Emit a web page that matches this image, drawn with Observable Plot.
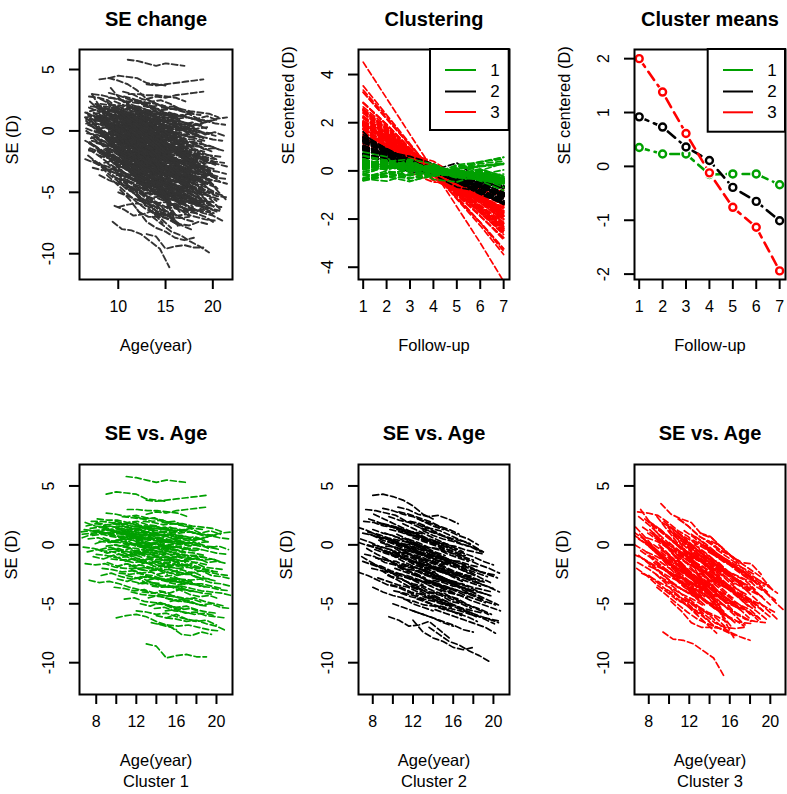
<!DOCTYPE html>
<html><head><meta charset="utf-8">
<script src="https://cdn.jsdelivr.net/npm/d3@7"></script>
<script src="https://cdn.jsdelivr.net/npm/@observablehq/plot@0.6"></script>
<style>
body{margin:0;background:#fff}
#wrap{position:relative;width:787px;height:794px;overflow:hidden;font-family:"Liberation Sans",Arial,sans-serif}
</style>
</head><body><div id="wrap"></div>
<script>
// Each trajectory: start age, then SE (D) at 7 yearly follow-up visits
const cluster1Trajectories = [
"6.5 1.1 1.2 1.0 1.0 0.9 0.8 0.6","6.6 0.9 1.0 1.1 0.8 0.7 0.7 0.4","6.8 1.3 1.2 1.3 1.1 1.0 0.9 0.8",
"6.7 -0.2 -0.3 -0.5 -0.6 -0.9 -0.8 -1.1","6.9 -1.6 -1.7 -1.6 -1.9 -2.0 -2.0 -2.2","7.0 1.6 1.8 1.6 1.5 1.3 1.4 1.1",
"7.2 0.5 0.6 0.3 0.2 0.1 0.0 -0.3","7.3 -3.0 -3.2 -3.1 -3.3 -3.6 -3.8 -4.0","7.5 2.0 2.0 1.9 1.8 1.6 1.5 1.3",
"7.6 0.8 0.9 0.7 0.6 0.4 0.4 0.1","7.8 1.2 1.0 1.1 0.9 0.8 0.6 0.5","8.0 -0.8 -0.9 -1.1 -1.0 -1.3 -1.4 -1.6",
"8.1 2.2 2.1 2.1 1.9 2.0 1.7 1.6","8.3 0.3 0.2 0.4 0.1 0.0 -0.2 -0.3","8.4 1.5 1.6 1.4 1.3 1.3 1.0 0.9",
"8.6 -2.0 -2.1 -2.3 -2.2 -2.5 -2.6 -2.9","8.8 1.0 1.1 0.9 0.7 0.8 0.5 0.3","9.0 4.3 4.5 4.4 4.3 3.9 3.8 3.7",
"9.0 2.7 2.6 2.4 2.5 2.3 2.2 2.0","9.2 -0.4 -0.3 -0.6 -0.7 -0.8 -1.0 -1.1","9.3 0.9 0.7 0.8 0.6 0.4 0.3 0.2",
"9.5 -1.2 -1.3 -1.2 -1.5 -1.6 -1.8 -1.9","9.6 1.8 1.7 1.8 1.5 1.4 1.4 1.2","9.8 -3.6 -3.7 -3.9 -3.8 -4.1 -4.3 -4.4",
"10.0 -6.2 -6.0 -5.9 -6.1 -6.5 -6.8 -7.2","10.0 0.4 0.5 0.3 0.1 0.2 -0.1 -0.2","10.2 1.3 1.2 1.0 1.1 0.8 0.8 0.6",
"10.3 -2.4 -2.5 -2.4 -2.7 -2.9 -3.0 -3.2","10.5 -0.9 -1.0 -0.8 -1.2 -1.3 -1.3 -1.6","10.6 2.4 2.3 2.2 2.0 2.1 1.8 1.7",
"10.8 -4.6 -4.5 -4.8 -4.9 -5.0 -5.3 -5.4","11.0 5.8 5.7 5.5 5.3 5.5 5.4 5.3","11.0 0.0 0.1 -0.1 -0.3 -0.3 -0.5 -0.7",
"11.1 3.0 3.0 2.9 2.9 2.8 2.7 2.4","11.3 -1.8 -1.7 -1.9 -2.1 -2.1 -2.4 -2.5","11.4 1.0 0.9 0.8 0.9 0.6 0.5 0.3",
"11.6 -3.1 -3.3 -3.2 -3.5 -3.6 -3.7 -4.0","11.7 -0.5 -0.4 -0.7 -0.8 -0.8 -1.1 -1.2","11.9 1.7 1.6 1.6 1.3 1.4 1.2 1.0",
"12.0 -5.6 -5.7 -5.9 -5.8 -6.1 -6.3 -6.5","12.1 -1.3 -1.2 -1.4 -1.6 -1.7 -1.8 -2.0","12.3 0.6 0.5 0.6 0.3 0.3 0.1 -0.1",
"12.4 -2.7 -2.8 -2.9 -2.9 -3.2 -3.3 -3.4","12.6 -4.0 -4.1 -4.0 -4.3 -4.5 -4.6 -4.9","12.7 2.0 1.9 1.7 1.8 1.6 1.4 1.3",
"12.8 -0.2 -0.3 -0.2 -0.5 -0.6 -0.7 -0.9","13.0 3.8 3.7 3.8 3.9 4.0 4.1 4.2","13.0 -8.4 -8.6 -9.6 -9.4 -9.3 -9.5 -9.5",
"13.1 -1.0 -1.1 -1.0 -1.3 -1.4 -1.5 -1.7","13.3 0.9 0.8 0.9 0.6 0.5 0.5 0.2","13.4 -2.2 -2.1 -2.4 -2.5 -2.5 -2.8 -2.9",
"13.5 -6.6 -6.8 -7.0 -7.6 -7.7 -7.4 -7.6","13.6 -3.5 -3.6 -3.5 -3.8 -3.9 -4.1 -4.2","13.8 1.4 1.3 1.2 1.3 1.0 0.9 0.8",
"14.0 -0.6 -0.5 -0.8 -0.9 -1.0 -1.1 -1.3","14.0 -5.0 -5.1 -5.3 -5.2 -5.5 -5.7 -5.8","14.2 -1.6 -1.7 -1.8 -1.7 -2.0 -2.2 -2.3",
"14.3 0.3 0.2 0.1 0.2 -0.1 -0.2 -0.4","14.5 -2.9 -3.0 -3.1 -3.3 -3.3 -3.5 -3.7","14.6 1.9 1.8 1.8 1.6 1.5 1.4 1.1",
"14.8 -4.3 -4.4 -4.6 -4.5 -4.8 -5.0 -5.2","15.0 -0.1 -0.2 -0.3 -0.3 -0.5 -0.7 -0.8","15.0 -6.2 -6.3 -6.5 -6.4 -6.7 -6.9 -7.3",
"15.2 -1.9 -2.0 -1.9 -2.2 -2.3 -2.5 -2.6","15.3 1.1 1.0 1.1 0.9 0.8 0.6 0.5","15.5 -3.6 -3.5 -3.7 -3.9 -4.0 -4.1 -4.3",
"15.5 0.5 0.6 0.4 0.5 0.8 1.0 1.1","14.2 -6.7 -6.8 -6.9 -6.8 -7.0 -7.2 -7.3","13.8 -5.4 -5.3 -5.6 -5.7 -5.9 -5.8 -6.0",
"11.5 -4.0 -4.2 -4.3 -4.4 -4.6 -4.8 -4.9","12.0 0.2 0.0 0.1 -0.2 -0.2 -0.4 -0.5","13.0 -0.4 -0.6 -0.5 -0.7 -0.9 -0.9 -1.1",
"10.5 0.7 0.6 0.4 0.5 0.3 0.2 0.0","9.0 -0.1 0.0 -0.2 -0.3 -0.5 -0.5 -0.7","15.4 -2.8 -2.9 -3.0 -2.9 -3.2 -3.3 -3.5",
"13.0 2.6 2.8 2.7 2.9 3.0 3.1 3.2","8.0 1.9 1.7 1.8 1.5 1.6 1.3 1.2","10.0 1.6 1.5 1.4 1.5 1.2 1.1 1.0",
"12.5 1.2 1.0 1.1 0.8 0.8 0.6 0.5","11.0 -2.6 -2.8 -2.7 -2.9 -3.1 -3.1 -3.4",
"6.6 0.6 0.9 1.0 0.8 1.1 1.2 1.3","6.9 1.9 1.6 1.5 1.2 1.0 0.9 0.8","7.1 -0.6 -0.4 -0.7 -0.5 -0.8 -0.6 -0.9",
"7.4 1.4 1.5 1.2 1.3 0.9 1.1 0.8","7.7 -1.0 -1.2 -0.9 -1.3 -1.5 -1.4 -1.8","7.9 0.1 0.4 0.2 0.3 -0.1 0.0 0.2",
"8.2 1.1 1.3 1.4 1.0 1.2 0.9 1.0","8.5 -2.6 -2.4 -2.7 -2.9 -2.8 -3.2 -3.3","8.7 0.6 0.3 0.5 0.1 0.2 -0.2 -0.1",
"8.9 1.4 1.1 1.2 0.9 0.6 0.7 0.4","9.1 -1.5 -1.8 -1.6 -2.0 -2.2 -2.1 -2.5","9.4 0.2 0.5 0.6 0.4 0.7 0.8 0.9",
"9.7 -0.3 -0.6 -0.5 -0.9 -0.8 -1.2 -1.3","9.9 2.0 1.8 1.9 1.4 1.6 1.3 1.2","10.1 -2.9 -3.1 -2.8 -3.3 -3.5 -3.4 -3.8",
"10.4 -0.1 0.1 -0.2 0.0 -0.4 -0.3 -0.5","10.7 1.1 0.8 0.9 0.5 0.6 0.3 0.2","10.9 -1.4 -1.1 -1.3 -1.0 -1.4 -1.2 -1.5",
"11.2 0.5 0.7 0.4 0.6 0.2 0.4 0.1","11.5 -2.1 -2.4 -2.3 -2.7 -2.6 -3.0 -3.1","11.8 2.4 2.2 2.3 1.9 2.0 1.6 1.5",
"12.0 -0.8 -0.6 -0.9 -0.7 -1.1 -1.0 -1.3","12.2 -3.3 -3.1 -3.4 -3.6 -3.5 -3.9 -4.0","12.5 0.3 0.0 0.2 -0.2 -0.1 -0.5 -0.4",
"12.7 -1.9 -2.1 -1.8 -2.2 -2.4 -2.3 -2.7","12.9 1.6 1.4 1.5 1.1 1.2 1.0 0.7","13.2 -4.5 -4.3 -4.6 -4.8 -4.7 -5.1 -5.2",
"13.4 -0.3 0.0 -0.2 0.1 -0.1 0.2 0.3","13.6 -1.4 -1.6 -1.3 -1.8 -1.7 -2.0 -2.2","13.9 0.6 0.4 0.5 0.1 0.2 -0.1 -0.2",
"14.1 -2.5 -2.3 -2.6 -2.4 -2.8 -2.9 -3.1","14.3 -3.9 -4.1 -3.8 -4.2 -4.4 -4.3 -4.6","14.4 1.3 1.5 1.2 1.4 1.0 1.2 0.9",
"14.6 -0.9 -1.1 -0.8 -1.2 -1.3 -1.2 -1.5","14.9 -5.6 -5.5 -5.8 -5.7 -6.0 -6.1 -6.2","15.1 -1.2 -1.0 -1.3 -1.1 -1.5 -1.4 -1.6",
"15.2 0.0 0.2 -0.1 0.1 -0.3 -0.1 -0.4","15.3 -3.2 -3.4 -3.1 -3.5 -3.6 -3.8 -3.9","15.4 -4.8 -4.6 -4.9 -5.1 -5.0 -5.3 -5.4",
"15.5 -2.3 -2.1 -2.4 -2.2 -2.6 -2.7 -2.9","8.4 -0.4 -0.2 -0.5 -0.3 -0.7 -0.6 -0.8","10.0 -1.9 -1.6 -1.8 -1.5 -1.9 -1.7 -2.0",
"11.0 1.5 1.3 1.4 1.0 1.1 0.8 0.7","12.4 -5.0 -5.2 -4.9 -5.3 -5.5 -5.4 -5.7","13.1 -3.0 -2.8 -3.1 -2.9 -3.3 -3.4 -3.6",
"14.0 -6.0 -6.2 -5.9 -6.3 -6.5 -6.4 -6.8","9.8 0.0 -0.2 0.1 -0.3 -0.2 -0.5 -0.6","11.4 -0.9 -0.7 -0.4 -0.6 -0.3 -0.5 -0.2",
"12.8 0.8 1.0 0.7 0.9 0.5 0.7 0.4","14.8 -1.6 -1.4 -1.7 -1.5 -1.9 -2.0 -2.1",
"9.2 -1.0 -0.8 -0.9 -0.6 -0.5 -0.2 -0.1","12.2 -2.0 -1.9 -2.1 -1.8 -1.4 -1.3 -1.1","14.2 0.0 -0.1 0.2 0.1 0.5 0.7 0.9"
];
const cluster2Trajectories = [
"6.5 1.5 1.2 0.8 0.5 0.1 -0.2 -0.5","6.5 -2.3 -2.6 -3.0 -3.4 -3.6 -4.0 -4.3","6.8 0.5 0.2 -0.2 -0.4 -0.9 -1.1 -1.5",
"7.0 1.0 0.8 0.4 0.1 -0.3 -0.6 -0.9","7.2 -0.8 -1.0 -1.5 -1.7 -2.2 -2.4 -2.8","7.3 3.0 2.9 2.7 2.5 2.0 1.8 1.4",
"7.5 0.0 -0.3 -0.6 -1.0 -1.3 -1.6 -2.0","7.6 2.2 1.9 1.6 1.4 0.9 0.7 0.3","7.8 -1.6 -1.8 -2.2 -2.5 -2.9 -3.1 -3.5",
"8.0 4.2 4.3 4.1 3.8 3.3 2.6 2.2","8.0 1.3 1.0 0.8 0.4 0.0 -0.3 -0.7","8.2 -0.4 -0.7 -1.0 -1.2 -1.7 -2.0 -2.3",
"8.4 0.7 0.5 0.1 -0.2 -0.5 -0.9 -1.2","8.5 -2.8 -3.1 -3.4 -3.6 -4.0 -4.4 -4.6","8.7 1.8 1.6 1.2 1.0 0.5 0.2 -0.1",
"8.8 0.2 -0.1 -0.4 -0.8 -1.0 -1.4 -1.7","9.0 3.1 2.9 2.6 2.4 2.0 1.6 1.3","9.0 -1.2 -1.5 -1.8 -2.0 -2.5 -2.8 -3.1",
"9.2 1.0 0.7 0.5 0.1 -0.2 -0.6 -0.9","9.4 -0.6 -0.8 -1.2 -1.5 -1.8 -2.2 -2.5","9.6 -6.1 -6.4 -6.9 -6.8 -6.5 -7.2 -7.9",
"9.6 2.4 2.1 1.9 1.5 1.2 0.9 0.5","9.8 -3.4 -3.6 -4.0 -4.2 -4.6 -4.9 -5.3","10.0 0.4 0.1 -0.2 -0.5 -0.9 -1.2 -1.5",
"10.2 -2.0 -2.3 -2.6 -2.9 -3.2 -3.6 -3.9","10.3 1.5 1.2 1.0 0.6 0.3 -0.1 -0.4","10.5 -0.9 -1.2 -1.5 -1.8 -2.2 -2.5 -2.8",
"10.6 2.8 2.6 2.3 2.0 1.6 1.3 0.9","10.8 -4.1 -4.4 -4.6 -5.0 -5.3 -5.6 -6.0","11.0 0.0 -0.3 -0.7 -0.9 -1.3 -1.6 -1.9",
"11.0 -1.6 -1.9 -2.1 -2.5 -2.8 -3.2 -3.4","11.2 1.0 0.7 0.4 0.1 -0.3 -0.6 -0.9","11.4 -2.6 -2.9 -3.2 -3.5 -3.8 -4.2 -4.5",
"11.5 -0.5 -0.8 -1.0 -1.4 -1.7 -2.0 -2.4","11.7 2.0 1.8 1.4 1.2 0.8 0.4 0.1","11.8 -3.5 -3.8 -4.1 -4.3 -4.8 -5.0 -5.4",
"12.0 -1.0 -1.3 -1.6 -1.9 -2.3 -2.6 -2.9","12.0 0.6 0.3 0.0 -0.3 -0.6 -1.0 -1.3","12.2 -2.2 -2.5 -2.8 -3.1 -3.4 -3.8 -4.1",
"12.4 -4.6 -4.9 -5.2 -5.5 -5.8 -6.1 -6.5","12.5 -0.2 -0.5 -0.8 -1.2 -1.5 -1.8 -2.2","12.7 -1.6 -1.9 -2.2 -2.5 -2.9 -3.2 -3.5",
"12.8 1.4 1.1 0.8 0.5 0.1 -0.2 -0.6","12.0 -6.4 -7.4 -7.9 -8.2 -8.7 -8.9 -8.7","13.6 -7.0 -7.6 -8.2 -8.5 -9.0 -9.4 -9.9",
"13.2 -3.0 -3.3 -3.6 -3.9 -4.3 -4.6 -4.9","13.0 1.2 0.8 0.5 0.3 0.0 -0.2 -0.6","13.4 -0.8 -1.1 -1.4 -1.7 -2.1 -2.4 -2.7",
"13.6 -2.4 -2.7 -3.0 -3.3 -3.6 -4.0 -4.3","13.8 -4.0 -4.2 -4.6 -4.9 -5.2 -5.5 -5.9","14.0 0.2 -0.1 -0.4 -0.7 -1.0 -1.4 -1.7",
"14.0 -1.8 -2.1 -2.4 -2.8 -3.0 -3.4 -3.7","14.2 -3.2 -3.5 -3.8 -4.1 -4.4 -4.8 -5.1","14.4 -0.9 -1.2 -1.5 -1.9 -2.2 -2.5 -2.8",
"14.5 -4.8 -5.0 -5.4 -5.7 -6.0 -6.3 -6.6","14.6 -2.0 -2.3 -2.6 -3.0 -3.3 -3.6 -4.0","14.7 -3.8 -4.1 -4.3 -4.7 -5.0 -5.3 -5.6",
"10.0 -5.0 -5.3 -5.6 -5.9 -6.2 -6.6 -6.9","9.0 1.8 1.6 1.3 1.0 0.6 0.3 0.0","11.0 -3.0 -3.3 -3.5 -3.9 -4.2 -4.5 -4.9",
"12.5 2.2 1.9 1.6 1.2 0.8 0.5 0.0","8.0 -3.6 -4.0 -4.3 -4.5 -5.0 -5.3 -5.6","13.0 1.6 1.2 0.8 0.5 0.3 -0.1 -0.6",
"10.5 3.2 3.0 2.6 2.4 2.5 2.2 1.8","7.0 -1.4 -1.7 -2.0 -2.4 -2.7 -3.0 -3.4","9.5 0.3 0.0 -0.3 -0.6 -1.0 -1.3 -1.6",
"12.0 -5.6 -5.9 -6.2 -6.5 -6.8 -7.2 -7.4","14.2 -5.5 -5.8 -6.1 -6.4 -6.7 -7.0 -7.5","11.5 0.5 0.2 -0.2 -0.4 -0.8 -1.1 -1.4",
"13.0 -1.2 -1.5 -1.8 -2.2 -2.5 -2.8 -3.1",
"6.6 0.2 -0.1 -0.3 -0.6 -0.7 -1.0 -1.2","6.9 -1.0 -1.5 -2.0 -2.4 -2.9 -3.4 -3.8","7.1 2.0 1.9 1.6 1.5 1.2 1.1 0.9",
"7.4 -0.3 -0.8 -1.2 -1.7 -2.1 -2.6 -3.0","7.7 0.9 0.6 0.5 0.1 0.0 -0.4 -0.5","7.9 -2.0 -2.2 -2.7 -2.9 -3.4 -3.6 -4.1",
"8.1 2.6 2.2 1.8 1.4 1.0 0.6 0.1","8.3 -1.1 -1.3 -1.4 -1.8 -1.9 -2.3 -2.4","8.6 0.4 0.0 -0.5 -0.8 -1.3 -1.7 -2.2",
"8.9 -2.2 -2.4 -2.5 -2.9 -3.1 -3.3 -3.5","9.1 0.6 0.2 -0.1 -0.6 -0.9 -1.4 -1.7","9.3 -0.1 -0.2 -0.5 -0.6 -0.9 -1.0 -1.3",
"9.5 -2.6 -3.0 -3.5 -3.8 -4.3 -4.6 -5.1","9.7 1.3 1.1 0.8 0.7 0.4 0.2 0.0","9.9 -1.5 -1.9 -2.4 -2.8 -3.2 -3.7 -4.1",
"10.1 -3.9 -4.1 -4.3 -4.6 -4.8 -5.1 -5.2","10.4 0.9 0.5 0.1 -0.4 -0.8 -1.2 -1.7","10.6 -1.9 -2.1 -2.2 -2.6 -2.7 -3.0 -3.2",
"10.9 -0.4 -0.9 -1.3 -1.8 -2.2 -2.7 -3.1","11.1 -4.6 -4.8 -5.1 -5.2 -5.5 -5.7 -5.9","11.3 0.3 0.1 -0.2 -0.3 -0.6 -0.8 -1.0",
"11.6 -1.2 -1.7 -2.1 -2.6 -3.0 -3.5 -3.9","11.9 -2.9 -3.1 -3.2 -3.6 -3.7 -4.0 -4.2","12.1 0.1 -0.4 -0.8 -1.3 -1.7 -2.2 -2.6",
"12.3 -3.6 -4.0 -4.5 -4.8 -5.3 -5.7 -6.1","12.6 -0.6 -0.8 -1.0 -1.3 -1.4 -1.7 -1.9","12.9 -2.1 -2.5 -3.0 -3.3 -3.8 -4.2 -4.6",
"13.1 0.5 0.3 0.0 -0.1 -0.4 -0.6 -0.8","13.3 -1.9 -2.1 -2.3 -2.6 -2.7 -3.0 -3.2","13.5 -3.4 -3.8 -4.3 -4.6 -5.1 -5.5 -5.9",
"13.7 -0.5 -1.0 -1.4 -1.9 -2.3 -2.8 -3.2","13.9 -2.8 -2.9 -3.2 -3.3 -3.6 -3.8 -4.0","14.1 -4.3 -4.7 -5.1 -5.5 -5.9 -6.3 -6.7",
"14.3 -1.3 -1.5 -1.8 -1.9 -2.2 -2.4 -2.6","14.5 -2.6 -3.0 -3.5 -3.8 -4.3 -4.7 -5.1","14.6 -0.3 -0.6 -1.0 -1.3 -1.7 -2.0 -2.4",
"14.7 -5.2 -5.4 -5.6 -5.9 -6.1 -6.3 -6.5","8.0 0.0 -0.2 -0.5 -0.7 -0.9 -1.2 -1.4","10.0 -0.6 -1.1 -1.6 -2.0 -2.5 -2.9 -3.4",
"12.0 -1.4 -1.6 -1.9 -2.0 -2.3 -2.5 -2.7","11.0 1.8 1.4 1.0 0.6 0.2 -0.2 -0.6","13.0 -4.4 -4.6 -4.9 -5.1 -5.4 -5.6 -5.8",
"9.0 -0.5 -0.9 -1.4 -1.8 -2.2 -2.7 -3.1","7.5 1.1 0.9 0.6 0.4 0.2 -0.1 -0.3","14.0 -3.0 -3.2 -3.5 -3.6 -3.9 -4.1 -4.4"
];
const cluster3Trajectories = [
"6.5 1.1 0.5 -0.2 -1.0 -1.6 -2.0 -2.8","6.6 0.8 0.2 -0.6 -1.3 -2.0 -2.4 -3.2","6.8 -2.0 -2.6 -3.4 -4.0 -4.7 -5.1 -5.9",
"6.9 2.8 2.7 2.5 1.9 1.2 0.7 -0.2","7.0 0.5 -0.1 -0.9 -1.6 -2.2 -2.6 -3.4","7.2 -0.5 -1.1 -1.8 -2.5 -3.2 -3.5 -4.3",
"7.4 1.5 0.9 0.2 -0.5 -1.1 -1.5 -2.3","7.5 -1.2 -1.8 -2.6 -3.3 -3.9 -4.3 -5.1","7.7 0.2 -0.4 -1.2 -1.9 -2.5 -2.9 -3.7",
"7.9 1.0 0.4 -0.3 -1.1 -1.6 -2.1 -2.9","8.0 -2.6 -3.3 -4.0 -4.7 -5.3 -5.7 -6.5","8.2 -0.2 -0.8 -1.6 -2.3 -2.9 -3.3 -4.1",
"8.3 1.8 1.2 0.4 -0.3 -0.9 -1.3 -2.1","8.5 -1.5 -2.1 -2.8 -3.6 -4.2 -4.6 -5.4","8.6 0.7 0.1 -0.7 -1.4 -2.0 -2.4 -3.2",
"8.8 -3.6 -4.3 -5.0 -5.7 -6.3 -6.7 -7.0","9.0 1.3 0.7 -0.1 -0.8 -1.4 -1.8 -2.6","9.2 3.5 2.6 2.2 1.9 0.9 0.6 -0.2",
"9.2 -0.6 -1.3 -2.0 -2.7 -3.3 -3.7 -4.5","9.4 -7.4 -8.0 -8.1 -8.4 -9.0 -9.6 -11.1","9.5 0.3 -0.3 -1.1 -1.8 -2.4 -2.8 -3.6",
"9.7 -2.1 -2.7 -3.5 -4.2 -4.8 -5.2 -6.0","9.9 1.6 1.0 0.3 -0.5 -1.1 -1.5 -2.3","10.0 -0.9 -1.5 -2.3 -3.0 -3.6 -4.0 -4.8",
"10.2 -4.8 -5.6 -6.6 -7.0 -7.0 -7.1 -7.6","10.4 0.8 0.2 -0.6 -1.3 -1.9 -2.3 -3.1","10.5 -2.8 -3.4 -4.1 -4.8 -5.4 -5.8 -6.6",
"10.7 -0.3 -0.9 -1.6 -2.4 -3.0 -3.4 -4.2","10.9 2.2 1.6 0.8 0.2 -0.4 -0.8 -1.6","11.0 -1.6 -2.2 -2.9 -3.7 -4.3 -4.7 -5.5",
"11.2 0.4 -0.3 -1.0 -1.7 -2.3 -2.7 -3.5","11.4 -3.3 -3.9 -4.6 -5.3 -5.9 -6.3 -6.9","11.5 1.2 0.6 -0.2 -0.9 -1.5 -1.9 -2.7",
"11.7 -1.0 -1.7 -2.4 -3.1 -3.7 -4.1 -4.9","11.9 -2.3 -2.9 -3.6 -4.4 -5.0 -5.4 -6.2","12.0 0.0 -0.6 -1.3 -2.1 -2.7 -3.0 -3.8",
"12.2 0.9 0.3 -0.5 -1.2 -1.7 -2.1 -2.9","12.3 -3.8 -4.5 -5.2 -5.9 -6.4 -6.6 -6.7","12.5 -1.4 -2.0 -2.7 -3.5 -4.1 -4.5 -5.3",
"12.6 0.7 0.1 -0.6 -1.4 -2.0 -2.4 -3.2","12.8 -2.6 -3.2 -3.9 -4.6 -5.2 -5.6 -6.4","13.0 -0.4 -1.0 -1.7 -2.5 -3.1 -3.5 -4.3",
"13.1 1.0 0.7 -0.2 -0.9 -1.5 -1.6 -2.5","13.3 -1.8 -2.4 -3.1 -3.9 -4.4 -4.8 -5.6","12.0 -4.6 -5.3 -6.0 -6.8 -7.4 -7.8 -8.1",
"13.7 -0.2 -0.8 -1.5 -2.2 -2.8 -3.2 -4.0","14.0 -1.2 -1.8 -2.5 -3.3 -3.9 -4.3 -5.1","14.2 0.3 -0.2 -1.0 -1.6 -2.2 -2.8 -3.8",
"14.5 -0.8 -1.2 -1.9 -2.6 -3.5 -4.0 -4.7","15.4 -1.2 -1.8 -2.4 -3.1 -3.9 -4.8 -5.6","14.8 -2.0 -2.5 -3.2 -4.0 -4.8 -5.6 -6.4",
"8.0 2.0 1.4 0.6 -0.1 -0.7 -1.1 -1.9","7.0 -0.9 -1.6 -2.3 -3.0 -3.7 -4.0 -4.8","10.0 1.2 0.6 -0.1 -0.9 -1.5 -1.9 -2.7",
"11.0 -0.6 -1.2 -1.9 -2.7 -3.3 -3.7 -4.5","9.0 -1.8 -2.4 -3.1 -3.9 -4.5 -4.9 -5.7","12.0 -2.0 -2.6 -3.3 -4.1 -4.7 -5.1 -5.9",
"13.0 -2.4 -3.0 -3.7 -4.5 -5.1 -5.5 -6.3","8.5 0.0 -0.6 -1.4 -2.1 -2.7 -3.1 -3.9","11.5 -4.6 -5.2 -5.9 -6.6 -7.0 -7.1 -7.0",
"10.0 0.2 -0.5 -1.2 -1.9 -2.6 -2.9 -3.7","12.5 0.0 -0.6 -1.3 -2.1 -2.6 -3.0 -3.8","6.6 0.0 -0.5 -1.3 -2.0 -2.6 -3.0 -3.9",
"7.6 2.2 1.5 0.8 0.1 -0.5 -0.9 -1.8","11.0 2.2 1.5 0.7 0.3 -0.4 -0.9 -1.4","9.5 -3.0 -3.6 -4.4 -5.1 -5.7 -6.1 -6.9",
"13.5 -4.2 -4.7 -5.2 -5.8 -6.3 -6.5 -6.6","10.4 1.2 -0.3 -1.8 -3.3 -4.8 -6.3 -7.9",
"6.5 -0.8 -1.2 -1.7 -2.1 -2.5 -2.9 -3.4","6.7 1.5 0.6 -0.4 -1.4 -2.3 -3.2 -4.1","6.9 -1.5 -2.0 -2.6 -3.1 -3.6 -4.1 -4.6",
"7.1 0.9 0.0 -1.0 -2.0 -2.9 -3.8 -4.8","7.3 -2.4 -2.8 -3.3 -3.7 -4.2 -4.6 -5.1","7.5 0.5 -0.3 -1.2 -2.0 -2.9 -3.6 -4.4",
"7.8 -0.6 -1.0 -1.5 -1.9 -2.4 -2.8 -3.2","8.1 1.3 0.5 -0.5 -1.4 -2.3 -3.1 -4.0","8.4 -1.0 -1.6 -2.2 -2.8 -3.3 -3.8 -4.4",
"8.7 -2.5 -3.3 -4.2 -5.1 -5.9 -6.7 -7.5","8.9 0.4 0.0 -0.5 -0.9 -1.3 -1.8 -2.2","9.1 -0.2 -1.0 -1.9 -2.8 -3.6 -4.4 -5.3",
"9.3 1.9 1.4 0.8 0.3 -0.2 -0.7 -1.2","9.6 -1.3 -2.0 -2.8 -3.5 -4.3 -5.0 -5.8","9.8 -3.8 -4.3 -4.8 -5.2 -5.7 -6.1 -6.6",
"10.1 0.5 -0.3 -1.1 -1.9 -2.8 -3.6 -4.4","10.3 -1.9 -2.3 -2.8 -3.2 -3.6 -4.1 -4.5","10.6 1.0 0.3 -0.5 -1.2 -2.0 -2.7 -3.5",
"10.8 -0.8 -1.6 -2.5 -3.4 -4.3 -5.1 -6.0","11.1 -2.7 -3.2 -3.7 -4.1 -4.6 -5.0 -5.5","11.3 0.1 -0.7 -1.5 -2.3 -3.1 -3.9 -4.7",
"11.6 -1.5 -1.9 -2.4 -2.8 -3.3 -3.7 -4.2","11.8 -0.2 -1.0 -1.9 -2.7 -3.6 -4.4 -5.2","12.1 -3.1 -3.7 -4.3 -4.9 -5.5 -6.0 -6.5",
"12.4 0.4 -0.1 -0.6 -1.1 -1.6 -2.0 -2.5","12.7 -1.0 -1.7 -2.5 -3.3 -4.0 -4.7 -5.5","12.9 -3.5 -3.9 -4.4 -4.8 -5.3 -5.7 -6.2",
"13.2 -0.9 -1.5 -2.1 -2.7 -3.3 -3.8 -4.4","13.4 0.0 -0.5 -1.1 -1.7 -2.3 -2.9 -3.5","13.6 -2.2 -2.9 -3.6 -4.3 -5.0 -5.6 -6.3",
"13.9 -0.6 -1.1 -1.6 -2.1 -2.6 -3.0 -3.5","14.1 -1.8 -2.5 -3.3 -4.0 -4.8 -5.5 -6.2","14.4 -3.0 -3.4 -3.9 -4.3 -4.8 -5.2 -5.7",
"14.7 -0.4 -1.0 -1.6 -2.3 -2.9 -3.5 -4.1","7.0 2.4 1.7 0.9 0.1 -0.7 -1.4 -2.2","8.0 -1.8 -2.2 -2.7 -3.1 -3.6 -4.0 -4.5",
"9.0 0.0 -0.8 -1.7 -2.6 -3.4 -4.3 -5.1","10.0 -2.4 -3.0 -3.7 -4.3 -5.0 -5.6 -6.2","11.0 0.7 0.1 -0.6 -1.2 -1.9 -2.5 -3.1",
"12.0 -0.8 -1.3 -1.9 -2.4 -3.0 -3.5 -4.0","10.5 -4.0 -4.7 -5.5 -6.2 -6.9 -7.3 -7.7","9.5 2.0 1.3 0.5 -0.2 -0.9 -1.6 -2.3",
"12.5 -2.3 -2.7 -3.2 -3.6 -4.1 -4.6 -5.0","8.5 1.0 0.1 -0.9 -1.8 -2.8 -3.7 -4.6","11.5 -2.0 -2.8 -3.6 -4.4 -5.2 -6.0 -6.8",
"7.2 3.0 1.8 0.6 -0.6 -1.7 -2.8 -4.0","8.8 2.4 1.3 0.2 -0.9 -2.0 -3.0 -4.1","10.2 -0.5 -1.6 -2.7 -3.8 -4.8 -5.9 -7.0",
"7.8 0.6 0.3 -0.2 -0.6 -1.0 -1.3 -1.6","12.2 -1.0 -1.3 -1.7 -2.1 -2.4 -2.8 -3.2","9.9 1.5 0.4 -0.8 -1.9 -3.0 -4.0 -5.2"
];
const followUp = [1, 2, 3, 4, 5, 6, 7];
const clusterMean1 = [0.35, 0.23, 0.23, -0.15, -0.14, -0.14, -0.34];
const clusterMean2 = [0.92, 0.73, 0.36, 0.11, -0.39, -0.65, -1.01];
const clusterMean3 = [2.0, 1.38, 0.61, -0.12, -0.76, -1.13, -1.94];
const clusterLabels = ["1", "2", "3"];
const clusterColors = ["#00a000", "#000000", "#ff0000"];
const ageTicksTop = [10, 15, 20];
const ageTicksBottom = [8, 10, 12, 14, 16, 18, 20];
const seTicks = [5, 0, -5, -10];
const centeredTicks = [4, 2, 0, -2, -4];
const meanTicks = [2, 1, 0, -1, -2];

function parse(rows, c) {
  return rows.flatMap((s, i) => {
    const v = s.trim().split(/\s+/).map(Number);
    const se = v.slice(1);
    const m = d3.mean(se);
    return se.map((y, k) => ({id: c + "-" + i, cluster: c, visit: followUp[k], age: v[0] + k, se: y, centered: y - m}));
  });
}
const d1 = parse(cluster1Trajectories, 1);
const d2 = parse(cluster2Trajectories, 2);
const d3c = parse(cluster3Trajectories, 3);
const all = [...d1, ...d2, ...d3c];

const wrap = document.getElementById("wrap");
const FONT = "'Liberation Sans', Arial, sans-serif";
const dash = "6,3";

function panel(o) {
  const svg = Plot.plot({
    width: o.w, height: 397,
    marginTop: o.mt, marginBottom: o.mb, marginLeft: o.ml, marginRight: o.mr,
    x: {domain: o.xd, axis: null},
    y: {domain: o.yd, axis: null},
    style: {fontFamily: FONT, background: "white", color: "black"},
    marks: [
      ...o.marks,
      Plot.frame({stroke: "black", strokeWidth: 2}),
      Plot.axisX({anchor: "bottom", ticks: o.xt, tickFormat: o.xf || (d => String(d)), tickSize: 10, tickPadding: 11, fontSize: 16, strokeWidth: 2, label: null}),
      Plot.axisY({anchor: "left", ticks: o.yt, tickFormat: d => String(d), tickSize: 10, tickPadding: 16, tickRotate: -90, fontSize: 16, strokeWidth: 2, label: null}),
      Plot.text([o.title], {text: d => d, frameAnchor: "top", dy: o.tdy, fontSize: 20, fontWeight: "bold"}),
      Plot.text([o.xlabel], {text: d => d, frameAnchor: "bottom", dy: 71, fontSize: 16.5}),
      ...(o.sub ? [Plot.text([o.sub], {text: d => d, frameAnchor: "bottom", dy: 92, fontSize: 16.5})] : []),
      Plot.text([o.ylabel], {text: d => d, frameAnchor: "left", dx: o.ydx, rotate: -90, fontSize: 16.5})
    ]
  });
  svg.style.position = "absolute";
  svg.style.left = o.left + "px";
  svg.style.top = o.top + "px";
  svg.style.overflow = "visible";
  wrap.appendChild(svg);
}

const spag = (data, color, x, y, sw = 1.7) => Plot.line(data, {x, y, z: "id", stroke: color, strokeWidth: sw, strokeDasharray: dash, clip: true});

// Top-left: all trajectories
panel({left: 0, top: 0, w: 262, mt: 49, mb: 118, ml: 79, mr: 30,
  xd: [5.9, 22.08], yd: [-12.1, 6.63], xt: ageTicksTop, yt: seTicks,
  title: "SE change", tdy: -38, xlabel: "Age(year)", ylabel: "SE (D)", ydx: -67,
  marks: [spag(all, "#333333", "age", "se", 1.9)]});

// Top-middle: centered by follow-up
panel({left: 262, top: 0, w: 262, mt: 49, mb: 118, ml: 96, mr: 15,
  xd: [0.8, 7.25], yd: [-4.51, 5.04], xt: followUp, yt: centeredTicks,
  title: "Clustering", tdy: -38, xlabel: "Follow-up", ylabel: "SE centered (D)", ydx: -70,
  marks: [spag(d3c, clusterColors[2], "visit", "centered"), spag(d2, clusterColors[1], "visit", "centered"), spag(d1, clusterColors[0], "visit", "centered")]});

// Top-right: cluster means
const means = [clusterMean1, clusterMean2, clusterMean3];
const meanMarks = means.flatMap((m, i) => {
  const data = m.map((v, k) => ({t: followUp[k], v}));
  return [
    Plot.line(data, {x: "t", y: "v", stroke: clusterColors[i], strokeWidth: 2.6, strokeDasharray: "10,6"}),
    Plot.dot(data, {x: "t", y: "v", r: 4, fill: "white", stroke: "white", strokeWidth: 4}),
    Plot.dot(data, {x: "t", y: "v", r: 3.5, fill: "white", stroke: clusterColors[i], strokeWidth: 2.4})
  ];
});
panel({left: 524, top: 0, w: 263, mt: 49, mb: 118, ml: 110, mr: 2,
  xd: [0.8, 7.25], yd: [-2.1, 2.17], xt: followUp, yt: meanTicks,
  title: "Cluster means", tdy: -38, xlabel: "Follow-up", ylabel: "SE centered (D)", ydx: -70,
  marks: meanMarks});

// Bottom row: each cluster
const bottomFmt = d => (d % 4 === 0 ? String(d) : "");
const bottomCfg = [
  {left: 0, w: 262, ml: 79, mr: 30, xd: [6.33, 21.6], ydx: -68, data: d1},
  {left: 262, w: 262, ml: 96, mr: 15, xd: [6.58, 21.6], ydx: -72, data: d2},
  {left: 524, w: 263, ml: 110, mr: 2, xd: [6.59, 21.5], ydx: -72, data: d3c}
];
bottomCfg.forEach((c, i) => panel({left: c.left, top: 397, w: c.w, mt: 67, mb: 100, ml: c.ml, mr: c.mr,
  xd: c.xd, yd: [-12.7, 6.82], xt: ageTicksBottom, xf: bottomFmt, yt: seTicks,
  title: "SE vs. Age", tdy: -39, xlabel: "Age(year)", sub: "Cluster " + clusterLabels[i], ylabel: "SE (D)", ydx: c.ydx,
  marks: [spag(c.data, clusterColors[i], "age", "se")]}));

// Legends
const ov = d3.select(wrap).append("svg").attr("width", 787).attr("height", 794)
  .style("position", "absolute").style("left", "0px").style("top", "0px").style("font-family", FONT);
function legend(bx0, bx1, by0, by1, lx0, lx1, tx, rows) {
  ov.append("rect").attr("x", bx0).attr("y", by0).attr("width", bx1 - bx0).attr("height", by1 - by0)
    .attr("fill", "white").attr("stroke", "black").attr("stroke-width", 2);
  clusterLabels.forEach((lab, i) => {
    ov.append("line").attr("x1", lx0).attr("x2", lx1).attr("y1", rows[i]).attr("y2", rows[i])
      .attr("stroke", clusterColors[i]).attr("stroke-width", 2);
    ov.append("text").attr("x", tx).attr("y", rows[i]).attr("dy", "0.35em").attr("text-anchor", "middle")
      .attr("font-size", 17).text(lab);
  });
}
legend(430, 508.7, 49, 130, 445, 476, 495, [70, 91.5, 112]);
legend(707.7, 785, 49, 131.7, 723, 753, 772, [70, 91.5, 112.3]);
</script></body></html>
